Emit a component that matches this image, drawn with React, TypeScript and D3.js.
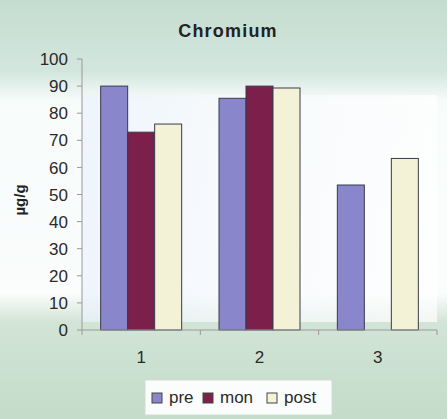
import React from "react";
import * as d3 from "d3";

const categories = ["1", "2", "3"];
const seriesNames = ["pre", "mon", "post"];
const preValues = [90, 85.5, 53.5];
const monValues = [73, 90, null];
const postValues = [76, 89.3, 63.3];
const yTicks = [0, 10, 20, 30, 40, 50, 60, 70, 80, 90, 100];
const colors = ["#8a86cc", "#7c1f4a", "#f4f2d6"];

const W = 447;
const H = 419;
const plot = { left: 82, right: 437, top: 59, bottom: 330 };

export default function App() {
  const x = d3.scaleBand().domain(categories).range([plot.left, plot.right]).paddingInner(0).paddingOuter(0);
  const y = d3.scaleLinear().domain([0, 100]).range([plot.bottom, plot.top]);
  const barW = 27;
  const series = [preValues, monValues, postValues];
  const font = "Arial, 'Liberation Sans', sans-serif";
  const legendX = [152, 203, 267];

  return (
    <svg width={W} height={H} style={{ position: "absolute", left: 0, top: 0 }} fontFamily={font}>
      <defs>
        <linearGradient id="bg" x1="0" y1="0" x2="0" y2="1">
          <stop offset="0" stopColor="#c4dccf" />
          <stop offset="0.17" stopColor="#d3e6de" />
          <stop offset="0.24" stopColor="#f7fbfa" />
          <stop offset="0.7" stopColor="#fbfdfd" />
          <stop offset="0.77" stopColor="#d2e4d6" />
          <stop offset="1" stopColor="#c4dcc9" />
        </linearGradient>
        <linearGradient id="plotbg" x1="0" y1="0" x2="1" y2="0">
          <stop offset="0" stopColor="#eaf2fb" />
          <stop offset="0.4" stopColor="#f6f9fd" />
          <stop offset="1" stopColor="#ffffff" />
        </linearGradient>
      </defs>
      <rect x={0} y={0} width={W} height={H} fill="url(#bg)" />
      <rect x={plot.left} y={95} width={plot.right - plot.left} height={plot.bottom - 95 - 8} fill="url(#plotbg)" opacity={0.7} />
      <text x={228} y={37} textAnchor="middle" fontSize={18} fontWeight="bold" letterSpacing={1.2} fill="#222">Chromium</text>
      {/* y axis */}
      <line x1={plot.left} x2={plot.left} y1={plot.top} y2={plot.bottom} stroke="#999" />
      {yTicks.map((t) => (
        <g key={t}>
          <line x1={plot.left - 5} x2={plot.left} y1={y(t)} y2={y(t)} stroke="#999" />
          <text x={68} y={y(t)} dy="0.36em" textAnchor="end" fontSize={17} fill="#2a2a2a">{t}</text>
        </g>
      ))}
      <text transform={`translate(25,200) rotate(-90)`} textAnchor="middle" fontSize={15} fontWeight="bold" fill="#222">µg/g</text>
      {/* bars */}
      {categories.map((c, i) => {
        const cx = (x(c) as number) + x.bandwidth() / 2;
        return series.map((s, j) => {
          const v = s[i];
          if (v == null) return null;
          const bx = cx - 1.5 * barW + j * barW;
          return (
            <rect key={c + j} x={bx} y={y(v)} width={barW} height={y(0) - y(v)} fill={colors[j]} stroke="#3a3a4a" strokeWidth={1} />
          );
        });
      })}
      {/* x axis */}
      <line x1={plot.left} x2={plot.right} y1={plot.bottom} y2={plot.bottom} stroke="#999" />
      {[0, 1, 2, 3].map((k) => {
        const xx = plot.left + k * x.bandwidth();
        return <line key={k} x1={xx} x2={xx} y1={plot.bottom} y2={plot.bottom + 5} stroke="#999" />;
      })}
      {categories.map((c) => (
        <text key={c} x={(x(c) as number) + x.bandwidth() / 2} y={363} textAnchor="middle" fontSize={17} fill="#2a2a2a">{c}</text>
      ))}
      {/* legend */}
      <rect x={145} y={380} width={187} height={35} fill="#fbfdfc" stroke="#cfdcd6" />
      {seriesNames.map((n, j) => (
        <g key={n}>
          <rect x={legendX[j]} y={393} width={10} height={10} fill={colors[j]} stroke="#444" strokeWidth={1} />
          <text x={legendX[j] + 17} y={403} fontSize={17} fill="#2a2a2a">{n}</text>
        </g>
      ))}
    </svg>
  );
}
